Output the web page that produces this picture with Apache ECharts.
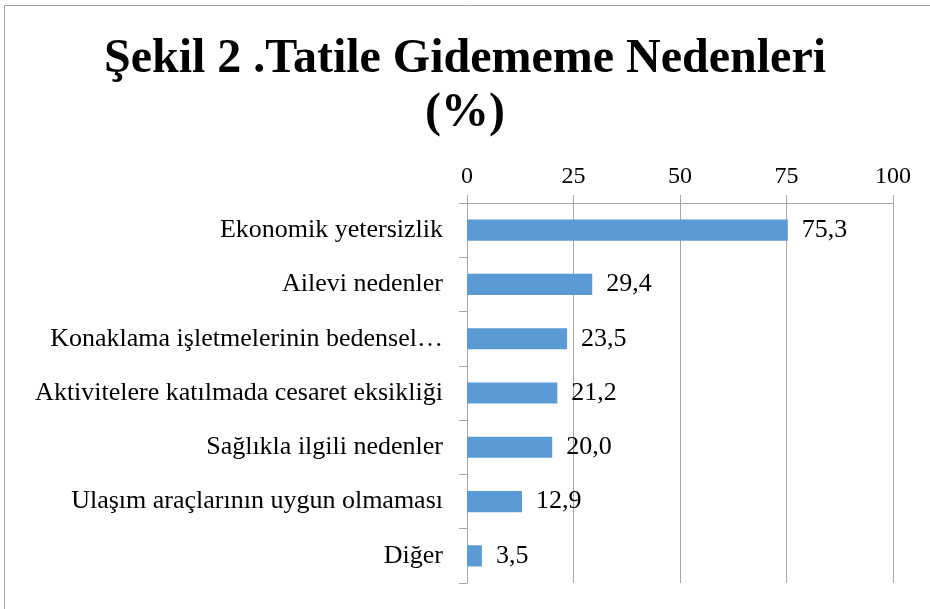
<!DOCTYPE html>
<html>
<head>
<meta charset="utf-8">
<script src="https://cdn.jsdelivr.net/npm/echarts@6/dist/echarts.min.js"></script>
<style>
  html, body { margin: 0; padding: 0; background: #fff; }
  #main { width: 930px; height: 609px; }
</style>
</head>
<body>
<div id="main"></div>
<script>
// kategoriler (yukaridan asagiya)
const categories = [
  'Ekonomik yetersizlik',
  'Ailevi nedenler',
  'Konaklama işletmelerinin bedensel…',
  'Aktivitelere katılmada cesaret eksikliği',
  'Sağlıkla ilgili nedenler',
  'Ulaşım araçlarının uygun olmaması',
  'Diğer'
]
const values = [75.3, 29.4, 23.5, 21.2, 20.0, 12.9, 3.5]
const tickValues = [0, 25, 50, 75, 100]

const serif = '"Liberation Serif", "Times New Roman", serif'

var myChart = echarts.init(document.getElementById('main'))

myChart.setOption({
  backgroundColor: '#fff',
  animation: false,
  title: {
    text: 'Şekil 2 .Tatile Gidememe Nedenleri\n(%)',
    left: 'center',
    top: 28,
    textStyle: {
      fontFamily: serif,
      fontWeight: 'bold',
      fontSize: 48,
      lineHeight: 54,
      color: '#000'
    }
  },
  graphic: [{
    type: 'rect',
    shape: { x: 4.5, y: 5.5, width: 1000, height: 700 },
    style: { fill: 'none', stroke: '#a0a0a0', lineWidth: 1 },
    silent: true
  }],
  grid: {
    left: 467,
    right: 37,
    top: 203,
    bottom: 26
  },
  xAxis: {
    type: 'value',
    position: 'top',
    min: tickValues[0],
    max: tickValues[tickValues.length - 1],
    interval: 25,
    axisLine: { show: true, lineStyle: { color: '#a6a6a6' } },
    axisTick: { show: true, length: 8, lineStyle: { color: '#a6a6a6' } },
    axisLabel: {
      fontFamily: serif,
      fontSize: 24,
      color: '#000',
      margin: 14
    },
    splitLine: { show: true, lineStyle: { color: '#a6a6a6', width: 1 } }
  },
  yAxis: {
    type: 'category',
    inverse: true,
    data: categories,
    axisLine: { show: true, lineStyle: { color: '#a6a6a6' } },
    axisTick: { show: true, length: 8, lineStyle: { color: '#a6a6a6' } },
    axisLabel: {
      fontFamily: serif,
      fontSize: 26,
      color: '#000',
      margin: 24
    }
  },
  series: [{
    type: 'bar',
    data: values,
    barCategoryGap: '61%',
    itemStyle: { color: '#5b9bd5' },
    label: {
      show: true,
      position: 'right',
      distance: 14,
      fontFamily: serif,
      fontSize: 26,
      color: '#000',
      formatter: function (p) {
        return p.value.toFixed(1).replace('.', ',')
      }
    }
  }]
})
</script>
</body>
</html>
